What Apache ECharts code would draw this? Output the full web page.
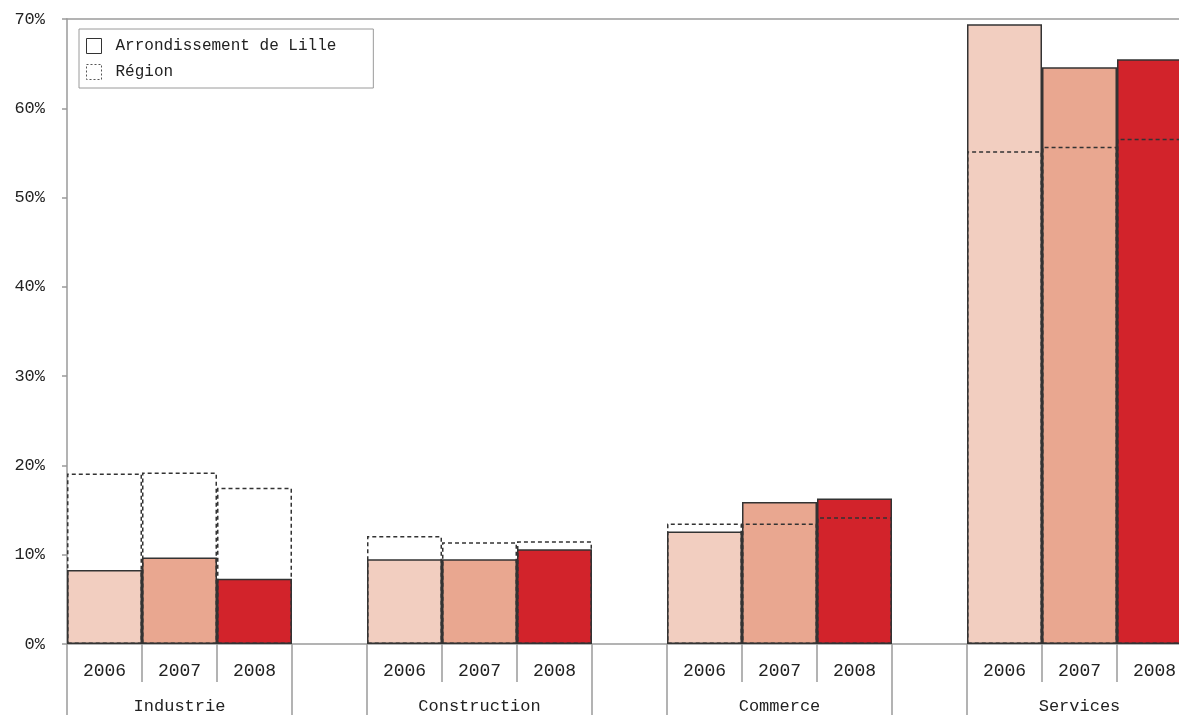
<!DOCTYPE html>
<html>
<head>
<meta charset="utf-8">
<script src="https://cdn.jsdelivr.net/npm/echarts@6/dist/echarts.min.js"></script>
<style>
  html, body { margin: 0; padding: 0; background: #fff; }
  #chart { width: 1179px; height: 715px; }
</style>
</head>
<body>
<div id="chart"></div>
<script>
// secteurs et années
var secteurs = ['Industrie', 'Construction', 'Commerce', 'Services'];
var annees = ['2006', '2007', '2008'];
var couleursAnnees = ['#F2CEC0', '#E9A790', '#D2232B'];

// part des établissements (%) par secteur, 2006-2008
var lille = [
  [8.3, 9.7, 7.3],
  [9.5, 9.5, 10.6],
  [12.6, 15.9, 16.3],
  [69.4, 64.6, 65.5]
];
var region = [
  [19.1, 19.2, 17.5],
  [12.1, 11.4, 11.5],
  [13.5, 13.5, 14.2],
  [55.2, 55.7, 56.6]
];

var yTicks = { min: 0, max: 70, interval: 10 };

// 4 emplacements par secteur : 3 années + un vide
var slotsAnnee = [], slotsSecteur = [], dataLille = [], dataRegion = [];
secteurs.forEach(function (s, i) {
  annees.forEach(function (a, j) {
    slotsAnnee.push(a);
    slotsSecteur.push(j === 1 ? s : '');
    dataLille.push({ value: lille[i][j], itemStyle: { color: couleursAnnees[j] } });
    dataRegion.push(region[i][j]);
  });
  slotsAnnee.push('');
  slotsSecteur.push('');
  dataLille.push('-');
  dataRegion.push('-');
});

var police = 'Liberation Mono';
var gris = '#9a9a9a';

var chart = echarts.init(document.getElementById('chart'));
chart.setOption({
  animation: false,
  backgroundColor: '#fff',
  textStyle: { fontFamily: police, color: '#222' },
  grid: { left: 67, top: 19, bottom: 71, right: -88, outerBoundsMode: 'none' },
  legend: {
    orient: 'vertical',
    left: 79, top: 29,
    padding: [9, 37, 8, 7],
    itemWidth: 15, itemHeight: 15, itemGap: 10,
    borderColor: gris, borderWidth: 1,
    backgroundColor: '#fff',
    textStyle: { fontFamily: police, fontSize: 16, color: '#222', padding: [0, 0, 0, 9] },
    data: [
      { name: 'Arrondissement de Lille', icon: 'rect',
        itemStyle: { color: '#fff', borderColor: '#333', borderWidth: 1 } },
      { name: 'Région', icon: 'rect',
        itemStyle: { color: '#fff', borderColor: '#555', borderWidth: 1, borderType: [2, 2] } }
    ]
  },
  xAxis: [
    {
      type: 'category', data: slotsAnnee, position: 'bottom',
      axisLine: { show: true, onZero: false, lineStyle: { color: gris, width: 1.5 } },
      axisTick: { show: true, interval: 0, length: 38, lineStyle: { color: gris, width: 1.5 } },
      axisLabel: { interval: 0, margin: 18, fontSize: 18, color: '#222', fontFamily: police }
    },
    {
      type: 'category', data: slotsSecteur, position: 'bottom', offset: 0,
      axisLine: { show: false, onZero: false },
      axisTick: {
        show: true,
        interval: function (i) { return i % 4 === 0 || i % 4 === 3; },
        length: 80, lineStyle: { color: gris, width: 1.5 }
      },
      axisLabel: {
        interval: function (i) { return i % 4 === 1; },
        margin: 54, fontSize: 17, color: '#222', fontFamily: police
      }
    },
    {
      type: 'category', data: slotsAnnee, position: 'top',
      axisLine: { show: true, onZero: false, lineStyle: { color: gris, width: 1.5 } },
      axisTick: { show: false }, axisLabel: { show: false }
    }
  ],
  yAxis: {
    type: 'value', min: yTicks.min, max: yTicks.max, interval: yTicks.interval,
    axisLine: { show: true, lineStyle: { color: gris, width: 1.5 } },
    axisTick: { show: true, length: 5, lineStyle: { color: gris, width: 1.5 } },
    splitLine: { show: false },
    axisLabel: { formatter: '{value}%', margin: 22, fontSize: 17, color: '#222', fontFamily: police }
  },
  series: [
    {
      name: 'Arrondissement de Lille', type: 'bar', data: dataLille,
      barCategoryGap: '0%', barGap: '-100%',
      itemStyle: { color: '#fff', borderColor: '#333', borderWidth: 1.5 }
    },
    {
      name: 'Région', type: 'bar', data: dataRegion,
      barCategoryGap: '0%', barGap: '-100%',
      itemStyle: { color: 'rgba(0,0,0,0)', borderColor: '#333', borderWidth: 1.5, borderType: [4, 3] }
    }
  ]
});
</script>
</body>
</html>
